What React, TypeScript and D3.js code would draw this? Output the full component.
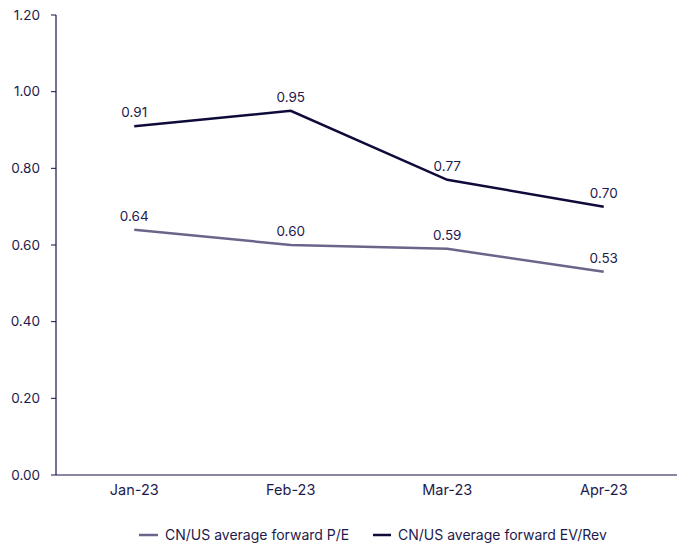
import React from "react";
import * as d3 from "d3";

const categories = ["Jan-23", "Feb-23", "Mar-23", "Apr-23"];
const peValues = [0.64, 0.6, 0.59, 0.53];
const evRevValues = [0.91, 0.95, 0.77, 0.7];
const yTicks = [0, 0.2, 0.4, 0.6, 0.8, 1.0, 1.2];
const seriesNames = ["CN/US average forward P/E", "CN/US average forward EV/Rev"];

const W = 677;
const H = 544;
const FONT = "Inter, 'Noto Sans', sans-serif";
const TEXT = "#1e1a4d";
const AXIS = "#16114a";
const C_PE = "#6b6589";
const C_EV = "#0e0a3a";

export default function App() {
  const left = 56;
  const top = 15;
  const bottom = 475;
  const x = d3.scaleBand<string>().domain(categories).range([left, left + 4 * 156.5]);
  const y = d3.scaleLinear().domain([0, 1.2]).range([bottom, top]);
  const cx = (c: string) => (x(c) ?? 0) + x.bandwidth() / 2;
  const line = d3
    .line<number>()
    .x((_, i) => cx(categories[i]))
    .y((d) => y(d));

  const series = [
    { name: seriesNames[0], values: peValues, color: C_PE },
    { name: seriesNames[1], values: evRevValues, color: C_EV },
  ];

  return (
    <svg
      width={W}
      height={H}
      style={{ position: "absolute", left: 0, top: 0, background: "#fff" }}
      fontFamily={FONT}
    >
      {/* y axis */}
      <line x1={left} x2={left} y1={top} y2={bottom} stroke={AXIS} strokeWidth={1.2} />
      {yTicks.map((t) => (
        <g key={t}>
          <line x1={left - 5} x2={left} y1={y(t)} y2={y(t)} stroke={AXIS} strokeWidth={1} />
          <text
            x={40}
            y={y(t)}
            dy="0.35em"
            textAnchor="end"
            fontSize={13.5}
            fill={TEXT}
          >
            {t.toFixed(2)}
          </text>
        </g>
      ))}
      {/* x axis */}
      <line x1={left} x2={W} y1={bottom} y2={bottom} stroke={AXIS} strokeWidth={1.2} />
      {categories.map((c) => (
        <text key={c} x={cx(c)} y={495} textAnchor="middle" fontSize={14.5} fill={TEXT}>
          {c}
        </text>
      ))}
      {/* lines */}
      {series.map((s) => (
        <g key={s.name}>
          <path d={line(s.values) ?? ""} fill="none" stroke={s.color} strokeWidth={2.5} />
          {s.values.map((v, i) => (
            <text
              key={i}
              x={cx(categories[i])}
              y={y(v) - 9}
              textAnchor="middle"
              fontSize={13.5}
              fill={TEXT}
            >
              {v.toFixed(2)}
            </text>
          ))}
        </g>
      ))}
      {/* legend */}
      <g>
        <line x1={139} x2={158} y1={535} y2={535} stroke={C_PE} strokeWidth={2.5} />
        <text x={165} y={535} dy="0.35em" fontSize={14} fill={TEXT}>
          {seriesNames[0]}
        </text>
        <line x1={373} x2={391} y1={535} y2={535} stroke={C_EV} strokeWidth={2.5} />
        <text x={398} y={535} dy="0.35em" fontSize={14} fill={TEXT}>
          {seriesNames[1]}
        </text>
      </g>
    </svg>
  );
}
